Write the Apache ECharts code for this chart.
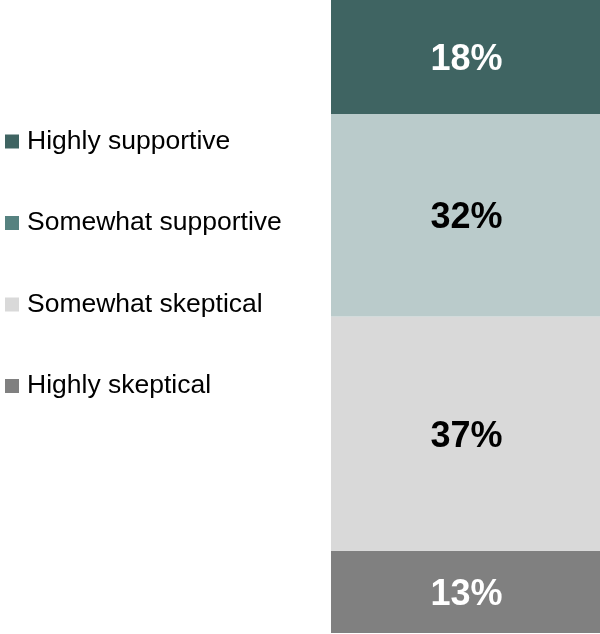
<!DOCTYPE html>
<html>
<head>
<meta charset="utf-8">
<script src="https://cdn.jsdelivr.net/npm/echarts@6/dist/echarts.min.js"></script>
<style>
  html, body { margin: 0; padding: 0; background: #fff; }
  #chart { width: 600px; height: 634px; }
</style>
</head>
<body>
<div id="chart"></div>
<script>
// stack order: bottom to top
const categories = ['All'];
const seriesNames = ['Highly skeptical', 'Somewhat skeptical', 'Somewhat supportive', 'Highly supportive'];
const seriesValues = [13, 37, 32, 18];
const legendOrder = ['Highly supportive', 'Somewhat supportive', 'Somewhat skeptical', 'Highly skeptical'];

const barColors = ['#808080', '#D9D9D9', '#BACBCB', '#3F6462'];
const labelColors = ['#ffffff', '#000000', '#000000', '#ffffff'];
const legendColors = {
    'Highly supportive': '#3F6462',
    'Somewhat supportive': '#568280',
    'Somewhat skeptical': '#D9D9D9',
    'Highly skeptical': '#808080'
};

const myChart = echarts.init(document.getElementById('chart'), null, { renderer: 'canvas' });

const option = {
    animation: false,
    legend: {
        orient: 'vertical',
        left: 0,
        top: 123,
        itemGap: 54.5,
        itemWidth: 14,
        itemHeight: 14,
        icon: 'rect',
        textStyle: {
            fontFamily: 'Liberation Sans, Arial, sans-serif',
            fontSize: 26.5,
            color: '#000',
            padding: [0, 0, 0, 3]
        },
        data: legendOrder.map(n => ({ name: n, itemStyle: { color: legendColors[n] } })),
        selectedMode: false
    },
    grid: { left: 331, right: 0, top: 0, bottom: 1 },
    xAxis: {
        type: 'category',
        data: categories,
        show: false
    },
    yAxis: {
        type: 'value',
        min: 0,
        max: 100,
        show: false
    },
    series: seriesNames.map((name, i) => ({
        name: name,
        type: 'bar',
        stack: 'total',
        barWidth: '100%',
        data: [seriesValues[i]],
        itemStyle: { color: barColors[i] },
        label: {
            show: true,
            position: 'inside',
            offset: [1, 3],
            formatter: '{c}%',
            fontFamily: 'Liberation Sans, Arial, sans-serif',
            fontWeight: 'bold',
            fontSize: 36,
            color: labelColors[i]
        }
    }))
};

myChart.setOption(option);
window.addEventListener('resize', myChart.resize);
</script>
</body>
</html>
